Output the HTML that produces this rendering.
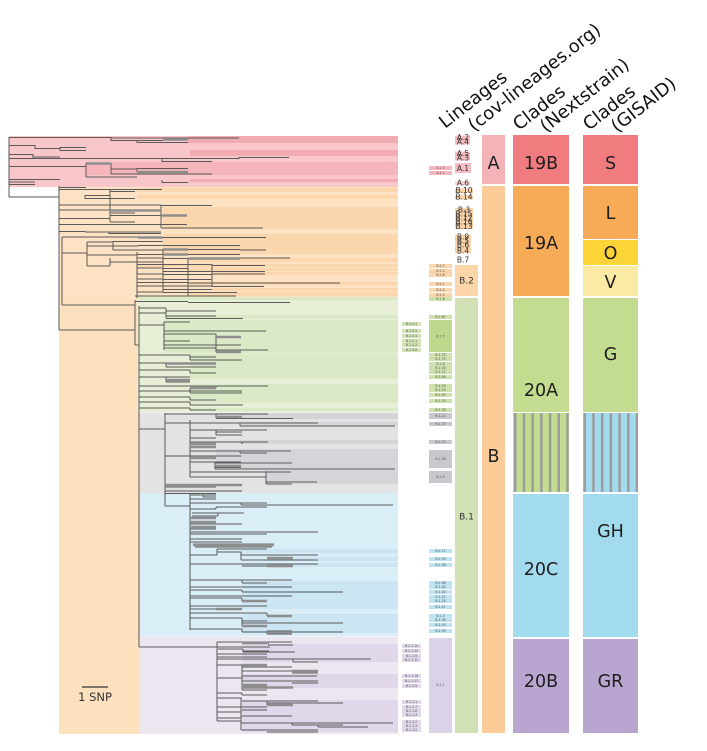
<!DOCTYPE html>
<html><head><meta charset="utf-8"><style>
html,body{margin:0;padding:0;background:#fff;}
svg{display:block;}
</style></head><body>
<svg width="707" height="751" viewBox="0 0 707 751" xmlns="http://www.w3.org/2000/svg" font-family="'DejaVu Sans','Liberation Sans',sans-serif">
<rect width="707" height="751" fill="#fff"/>

<!-- clade bands in tree -->
<rect x="9" y="136" width="389" height="51" fill="#f9c6ca"/>
<rect x="59" y="187" width="339" height="113" fill="#fde2c4"/>
<rect x="59" y="300" width="80" height="434" fill="#fde0bd"/>
<rect x="137" y="300" width="261" height="112" fill="#e7f0d6"/>
<rect x="139" y="412" width="259" height="81" fill="#e3e3e3"/>
<rect x="139" y="493" width="259" height="143" fill="#daeef7"/>
<rect x="139" y="636" width="259" height="98" fill="#ece6f1"/>
<rect x="139" y="412" width="259" height="0.8" fill="#f4f4f4"/>
<rect x="139" y="636" width="259" height="0.8" fill="#f4f4f8"/>

<!-- stripes -->
<g fill="#f3abb2">
<rect x="188" y="136" width="210" height="7"/><rect x="190" y="150" width="208" height="6"/>
<rect x="86" y="162" width="312" height="13" fill="#f5b5bb"/><rect x="190" y="179" width="208" height="3"/>
</g>
<g fill="#fcd6ac">
<rect x="137" y="188" width="261" height="4"/><rect x="137" y="195" width="261" height="4"/>
<rect x="163" y="207" width="235" height="22"/><rect x="163" y="234" width="235" height="20"/>
<rect x="190" y="258" width="208" height="4"/><rect x="137" y="264" width="261" height="3"/>
<rect x="188" y="268" width="210" height="3"/><rect x="212" y="272" width="186" height="3"/>
<rect x="188" y="282" width="210" height="3"/><rect x="212" y="288" width="186" height="3"/>
<rect x="188" y="292" width="210" height="4"/>
</g>
<rect x="137" y="297" width="261" height="3" fill="#dbe9c6"/>
<g fill="#dbe9c6">
<rect x="166" y="315" width="232" height="4"/><rect x="164" y="320" width="234" height="33"/>
<rect x="190" y="354" width="208" height="25"/><rect x="190" y="384" width="208" height="19"/>
<rect x="190" y="408" width="208" height="3"/>
</g>
<g fill="#d5d5d9">
<rect x="216" y="413" width="182" height="6"/><rect x="240" y="422" width="158" height="4"/>
<rect x="240" y="440" width="158" height="4"/><rect x="216" y="449" width="182" height="20"/>
<rect x="266" y="470" width="132" height="14"/>
</g>
<g fill="#cbe6f2">
<rect x="241" y="549" width="157" height="4"/><rect x="267" y="557" width="131" height="4"/>
<rect x="242" y="563" width="156" height="4"/><rect x="242" y="581" width="156" height="28"/>
<rect x="242" y="614" width="156" height="19"/>
</g>
<g fill="#e0d8ea">
<rect x="242" y="644" width="156" height="18"/><rect x="242" y="674" width="156" height="14"/>
<rect x="242" y="700" width="156" height="32"/>
</g>

<!-- tree -->
<path fill="none" stroke="#5a5a5a" stroke-width="1" d="
M9 137V197 M9 197H59
M9 137.5H111 M111 138H239 M111 140.5H163 M137 142.5H188
M9 145.5H35 M35 148.5H60 M60 147.5H86 M60 150.5H86
M9 154.5H33 M33 157H60 M9 158.5H162 M162 158.5H239 M239 157.5H289 M162 161.5H212
M86 163.5H111 M9 166.5H86 M111 169H137 M137 168.5H188 M137 172H188 M111 174H212 M86 177H137
M9 179.5H60 M9 182H35 M162 182.5H188 M9 184.5H35
M111 137V141 M137 140V143 M35 145V149 M60 147V151 M33 154V158 M162 158V162 M239 157V159 M86 163V177 M111 163V174 M137 168V172 M162 180V183
M59 186V330
M59 187.5H86 M59 189.5H162 M110 191.5H135 M85 195.5H110 M85 198.5H135
M59 205H161 M161 205.5H212 M59 210H110 M110 210.5H161 M110 213H135
M110 215.5H161 M161 215.5H187 M59 218.5H110 M110 222H135
M59 224.5H161 M161 224.5H187 M161 228H238 M238 228H263
M59 231.5H85 M85 232H161 M109 233.5H161 M62 237H138 M138 237.5H163 M163 237.5H266
M110 189V222 M85 195V199 M161 205V228 M85 231V232 M109 232V234
M87 242H113 M113 241.5H163 M87 246H138 M138 245.5H240
M113 250H163 M163 249.5H240 M240 250H266 M62 253H87
M87 255H137 M137 254.5H163 M163 254.5H240
M137 258H163 M163 258.5H188 M188 258H290 M110 262H137 M137 262H163 M87 266H110
M137 264.5H212 M212 265.5H265 M137 268H163 M163 268.5H188
M163 271.5H212 M212 271.5H265 M137 274H163 M163 274.5H212 M212 274H265
M137 279H163 M163 279.5H212 M137 282.5H188 M188 283H340
M137 286H212 M212 286.5H264 M163 289.5H212 M137 292H163 M163 292.5H237
M135 296H188 M188 296H236 M62 305H135
M62 237V305 M87 242V266 M113 241V250 M137 252V298 M110 258V266 M163 249V292 M212 264V287 M188 258V296
M59 330H135 M135 300V345 M135 345H139 M139 306V647 M139 647H217
M135 301.5H188 M188 302.5H290
M139 308H166 M166 311H216 M139 313H166 M166 316H216 M166 318.5H243
M164 322H190 M139 325H164 M164 331H266 M164 334H216 M216 337H241 M164 341H190 M164 345H241
M164 348H216 M216 350H268 M216 352H241
M139 355H190 M190 357H216 M190 360H242 M139 363H166 M166 363.5H216 M166 367H216
M139 370H190 M190 373H216 M139 377H190 M166 380H190 M166 382H190
M139 386H216 M216 386H268 M190 388H216 M139 391H242 M190 393H242 M139 397H190 M190 400H216
M139 402H190 M190 405H243 M139 408H190 M190 410H216
M166 308V318 M164 322V350 M216 334V352 M190 355V360 M166 363V367 M190 370V373 M166 377V382
M216 386V388 M190 388V393 M190 397V400 M190 402V405 M190 408V410
M165 413V492 M139 429H165
M165 414H216 M216 414H268 M216 417H242 M216 418.5H293 M216 414V418
M190 420V477 M165 423H190 M190 423H240 M240 423H318 M240 426H395 M190 430H267 M216 432H242 M216 435H242
M190 438H216 M190 442H242 M242 442H268 M190 444H216 M190 447H216 M190 451H240 M240 451H267 M267 451H291
M240 453H267 M165 456H190 M190 456H241 M190 458H216 M190 462H241 M215 463H292 M215 466H241
M215 467.5H241 M215 469H395 M190 472H291 M190 477H266 M266 482H317 M266 484H292
M165 485H242 M165 487H216 M165 491H242
M240 423V426 M216 430V435 M242 442V444 M240 451V453 M215 462V469 M266 471V484
M165 490V506 M165 506H190 M190 493V630
M165 493.5H216 M190 495H216 M203 495V497 M203 497H216 M190 499H216 M190 503H241 M241 503H267
M241 505H393 M241 503V505 M216 507H267 M190 509H216 M216 507V509
M192 513H218 M218 513V516 M218 513H244 M192 516H218 M190 518H216 M190 522H216 M190 524H242
M190 527H216 M190 529H216 M190 532H318 M190 534H267 M190 539H242 M190 542H242
M193 544H274 M195 547H272 M217 549H267 M217 552H241 M217 549V555 M190 555H217 M241 555H318
M241 552V560 M267 558H293 M241 560H318
M190 564H242 M242 564H318 M242 566H293
M190 580H242 M242 580H292 M242 583H267 M242 580V583 M190 587H267 M267 587H292 M190 590H242
M242 592H318 M318 592H343 M242 590V592 M190 596H267 M267 596H292 M190 598H242 M242 601H267 M242 598V601
M190 606H267 M190 609H216 M216 609H242 M190 613H267 M267 616H292 M267 613V616 M190 618H242
M242 621H267 M242 623H343 M242 626H267 M242 618V626 M190 629H242 M267 631H292 M242 632H343 M267 634H292
M242 629V632 M267 631V634
M217 642V721 M217 642H292 M242 643H269 M268 645H293 M217 647H270 M218 649H243 M243 651H269
M243 652H295 M243 649V652 M217 654H267 M217 657H267 M217 659H293 M293 659H371 M293 662H318 M293 659V662
M217 665H242 M242 665H267 M242 667H292 M242 665V690 M242 671H292 M292 671H318 M292 673H318
M242 676H317 M217 678H242 M242 681H292 M292 681H318 M292 683H318 M242 685H267 M242 687H293 M242 690H267
M217 693H242 M242 695H267 M242 693V695 M217 698H242 M242 701H269 M267 701H318 M267 703H343 M267 705H293
M217 707H267 M242 710H267 M217 712H241 M241 716H267 M267 716H292 M217 718H241 M217 721H241
M241 723H292 M292 723H343 M343 723H393 M292 725H343 M318 727H368 M241 730H318 M267 732H318
M241 698V730 M267 701V705 M292 723V725 M318 725V727
"/>
<!-- darker double segments -->
<path fill="none" stroke="#8e8e8e" stroke-width="2.6" d="
M163 139.5H188 M86 163.5H111 M137 172H188
M110 210.5H161 M161 215.5H187 M138 237.5H163 M163 249.5H188 M163 254.5H188 M188 258.5H240
M216 337H241 M216 352H241 M166 363.5H216 M166 380H190 M190 388H216
M216 417H242 M216 466H241 M190 444H216 M190 447H216 M190 458H216 M165 485H242
M190 518H216 M190 522H216 M190 527H216 M193 545H274 M267 558H293 M267 566H293 M242 601H267
M216 609H242 M267 616H292 M242 626H267 M267 632.5H292
M242 643H269 M242 665H267 M292 671H318 M242 685H267 M242 687.5H293 M267 705H293
"/>

<!-- scale bar -->
<line x1="82" y1="687" x2="108" y2="687" stroke="#333" stroke-width="1.3"/>
<text x="95" y="701" font-size="11.5" text-anchor="middle" fill="#333">1 SNP</text>

<!-- left tiny label column (402-421) -->
<g font-size="3.2" fill="#555" text-anchor="middle">
<g fill="#d2e4b5">
<rect x="402" y="322" width="19" height="4"/><rect x="402" y="329" width="19" height="4"/>
<rect x="402" y="334" width="19" height="4"/><rect x="402" y="339" width="19" height="4"/>
<rect x="402" y="343" width="19" height="4"/><rect x="402" y="348" width="19" height="4"/>
</g>
<text x="411.5" y="325.2">B.1.5.3</text><text x="411.5" y="332.2">B.1.5.5</text><text x="411.5" y="337.2">B.1.5.4</text>
<text x="411.5" y="342.2">B.1.5.1</text><text x="411.5" y="346.2">B.1.5.2</text><text x="411.5" y="351.2">B.1.5.6</text>
<g fill="#e0d8ea">
<rect x="402" y="644" width="19" height="4"/><rect x="402" y="649" width="19" height="4"/><rect x="402" y="654" width="19" height="4"/><rect x="402" y="658" width="19" height="4"/>
<rect x="402" y="674" width="19" height="4"/><rect x="402" y="679" width="19" height="4"/><rect x="402" y="684" width="19" height="4"/>
<rect x="402" y="700" width="19" height="4"/><rect x="402" y="705" width="19" height="4"/><rect x="402" y="709" width="19" height="4"/><rect x="402" y="713" width="19" height="4"/>
<rect x="402" y="720" width="19" height="4"/><rect x="402" y="724" width="19" height="4"/><rect x="402" y="728" width="19" height="4"/>
</g>
<text x="411.5" y="647.2">B.1.1.10</text><text x="411.5" y="652.2">B.1.1.14</text><text x="411.5" y="657.2">B.1.1.8</text><text x="411.5" y="661.2">B.1.1.12</text>
<text x="411.5" y="677.2">B.1.1.18</text><text x="411.5" y="682.2">B.1.1.17</text><text x="411.5" y="687.2">B.1.1.9</text>
<text x="411.5" y="703.2">B.1.1.1</text><text x="411.5" y="708.2">B.1.1.7</text><text x="411.5" y="712.2">B.1.1.6</text><text x="411.5" y="716.2">B.1.1.4</text>
<text x="411.5" y="723.2">B.1.1.2</text><text x="411.5" y="727.2">B.1.1.3</text><text x="411.5" y="731.2">B.1.1.5</text>
</g>

<!-- tiny label column (428-452) -->
<g font-size="3.2" fill="#555" text-anchor="middle">
<rect x="429" y="166" width="23" height="4" fill="#f4b9be"/><rect x="429" y="171" width="23" height="4" fill="#f4b9be"/>
<text x="440.5" y="169.2">A.1.3</text><text x="440.5" y="174.2">A.1.1</text>
<g fill="#fbd6ad">
<rect x="429" y="264" width="23" height="4"/><rect x="429" y="269" width="23" height="4"/><rect x="429" y="273" width="23" height="4"/>
<rect x="429" y="282" width="23" height="4"/><rect x="429" y="288" width="23" height="4"/><rect x="429" y="293" width="23" height="4"/>
</g>
<text x="440.5" y="267.2">B.2.7</text><text x="440.5" y="272.2">B.2.2</text><text x="440.5" y="276.2">B.2.6</text>
<text x="440.5" y="285.2">B.2.1</text><text x="440.5" y="291.2">B.2.4</text><text x="440.5" y="296.2">B.2.5</text>
<g fill="#cfe2ae">
<rect x="429" y="297" width="23" height="4"/><rect x="429" y="315" width="23" height="4"/>
<rect x="429" y="353" width="23" height="4"/><rect x="429" y="357" width="23" height="4"/><rect x="429" y="362" width="23" height="4"/>
<rect x="429" y="366" width="23" height="4"/><rect x="429" y="370" width="23" height="4"/><rect x="429" y="375" width="23" height="4"/>
<rect x="429" y="384" width="23" height="4"/><rect x="429" y="388" width="23" height="4"/><rect x="429" y="393" width="23" height="4"/>
<rect x="429" y="399" width="23" height="4"/><rect x="429" y="408" width="23" height="4"/>
</g>
<rect x="429" y="320" width="23" height="32" fill="#bcd98e"/>
<text x="440.5" y="300.2">B.1.6</text><text x="440.5" y="318.2">B.1.67</text><text x="440.5" y="337.5">B.1.5</text>
<text x="440.5" y="356.2">B.1.72</text><text x="440.5" y="360.2">B.1.70</text><text x="440.5" y="365.2">B.1.8</text>
<text x="440.5" y="369.2">B.1.34</text><text x="440.5" y="373.2">B.1.71</text><text x="440.5" y="378.2">B.1.69</text>
<text x="440.5" y="387.2">B.1.29</text><text x="440.5" y="391.2">B.1.23</text><text x="440.5" y="396.2">B.1.32</text>
<text x="440.5" y="402.2">B.1.33</text><text x="440.5" y="411.2">B.1.35</text>
<g fill="#c8c8cf">
<rect x="429" y="413" width="23" height="6"/><rect x="429" y="422" width="23" height="4"/><rect x="429" y="440" width="23" height="4"/>
<rect x="429" y="450" width="23" height="18"/><rect x="429" y="471" width="23" height="12"/>
</g>
<text x="440.5" y="417.2">B.1.22</text><text x="440.5" y="425.2">B.1.37</text><text x="440.5" y="443.2">B.1.13</text>
<text x="440.5" y="460.2">B.1.36</text><text x="440.5" y="478.2">B.1.9</text>
<g fill="#bfe3f1">
<rect x="429" y="549" width="23" height="4"/><rect x="429" y="557" width="23" height="4"/><rect x="429" y="563" width="23" height="4"/>
<rect x="429" y="581" width="23" height="4"/><rect x="429" y="585" width="23" height="4"/><rect x="429" y="590" width="23" height="4"/>
<rect x="429" y="595" width="23" height="4"/><rect x="429" y="599" width="23" height="4"/><rect x="429" y="605" width="23" height="4"/>
<rect x="429" y="614" width="23" height="4"/><rect x="429" y="618" width="23" height="4"/><rect x="429" y="623" width="23" height="4"/>
<rect x="429" y="629" width="23" height="4"/>
</g>
<text x="440.5" y="552.2">B.1.12</text><text x="440.5" y="560.2">B.1.30</text><text x="440.5" y="566.2">B.1.38</text>
<text x="440.5" y="584.2">B.1.66</text><text x="440.5" y="588.2">B.1.44</text><text x="440.5" y="593.2">B.1.40</text>
<text x="440.5" y="598.2">B.1.31</text><text x="440.5" y="602.2">B.1.29</text><text x="440.5" y="608.2">B.1.41</text>
<text x="440.5" y="617.2">B.1.3</text><text x="440.5" y="621.2">B.1.26</text><text x="440.5" y="626.2">B.1.43</text>
<text x="440.5" y="632.2">B.1.39</text>
<rect x="429" y="638" width="23" height="95" fill="#dcd2e8"/>
<text x="440.5" y="686.2">B.1.1</text>
</g>

<!-- lineage column -->
<rect x="482" y="135" width="23" height="49" fill="#f4b3b7"/>
<rect x="482" y="186" width="23" height="547" fill="#fccc98"/>
<rect x="455" y="298" width="23" height="435" fill="#d1e1b3"/>
<rect x="455" y="265" width="23" height="31" fill="#fcd5a8"/>
<g fill="#f5bcc1">
<rect x="455" y="135.5" width="15" height="4.5"/><rect x="455" y="140" width="15" height="4.5"/>
<rect x="455" y="151.5" width="15" height="4.5"/><rect x="455" y="156" width="15" height="4.5"/>
<rect x="455" y="163" width="16" height="10"/><rect x="455" y="181" width="15" height="4" fill="#f8d3d5"/>
</g>
<g fill="#fbd3a9">
<rect x="455" y="188.5" width="18" height="4.5"/><rect x="455" y="195" width="18" height="4.5"/>
<rect x="455" y="208" width="18" height="21"/><rect x="455" y="235" width="16" height="18"/>
</g>
<g font-size="7.5" fill="#333" text-anchor="middle">
<text x="463" y="140.2">A.2</text><text x="463" y="144.7">A.4</text>
<text x="463" y="156.2">A.5</text><text x="463" y="160.7">A.3</text>
<text x="463" y="171">A.1</text><text x="463" y="185.7">A.6</text>
<text x="464" y="193.2">B.10</text><text x="464" y="199.7">B.14</text>
<text x="464" y="212.7">B.3</text><text x="464" y="216.7">B.15</text><text x="464" y="220.7">B.12</text>
<text x="464" y="224.7">B.16</text><text x="464" y="229.2">B.13</text>
<text x="463" y="239.7">B.9</text><text x="463" y="243.7">B.5</text><text x="463" y="247.7">B.6</text>
<text x="463" y="253.7">B.4</text><text x="463" y="262.7">B.7</text>
</g>
<g font-size="9" fill="#333" text-anchor="middle">
<text x="466.5" y="283.5">B.2</text>
<text x="466.5" y="519.5">B.1</text>
</g>

<!-- Nextstrain clades -->
<rect x="513" y="135" width="56" height="49" fill="#f07c80"/>
<rect x="513" y="186" width="56" height="110" fill="#f8ab57"/>
<rect x="513" y="298" width="56" height="114" fill="#c4dc8f"/>
<rect x="513" y="413" width="56" height="79" fill="#c4dc8f"/>
<g fill="#9d9d9d">
<rect x="514" y="413" width="2.5" height="79"/><rect x="522.7" y="413" width="2.5" height="79"/>
<rect x="531.4" y="413" width="2.5" height="79"/><rect x="540.1" y="413" width="2.5" height="79"/>
<rect x="548.8" y="413" width="2.5" height="79"/><rect x="557.5" y="413" width="2.5" height="79"/>
<rect x="566.2" y="413" width="2.5" height="79"/>
</g>
<rect x="513" y="494" width="56" height="143" fill="#a2dbee"/>
<rect x="513" y="639" width="56" height="94" fill="#b9a6d0"/>

<!-- GISAID clades -->
<rect x="583" y="135" width="55" height="49" fill="#f07c80"/>
<rect x="583" y="186" width="55" height="53" fill="#f8ab57"/>
<rect x="583" y="240" width="55" height="25" fill="#fcd438"/>
<rect x="583" y="266" width="55" height="30" fill="#faeaa6"/>
<rect x="583" y="298" width="55" height="114" fill="#c4dc8f"/>
<rect x="583" y="413" width="55" height="79" fill="#a2dbee"/>
<g fill="#9d9d9d">
<rect x="583.5" y="413" width="2.5" height="79"/><rect x="592.2" y="413" width="2.5" height="79"/>
<rect x="600.9" y="413" width="2.5" height="79"/><rect x="609.6" y="413" width="2.5" height="79"/>
<rect x="618.3" y="413" width="2.5" height="79"/><rect x="627" y="413" width="2.5" height="79"/>
<rect x="635.7" y="413" width="2.3" height="79"/>
</g>
<rect x="583" y="494" width="55" height="143" fill="#a2dbee"/>
<rect x="583" y="639" width="55" height="94" fill="#b9a6d0"/>

<!-- big labels -->
<g font-size="17.5" fill="#1e1e1e" text-anchor="middle">
<text x="493.5" y="169">A</text>
<text x="493.5" y="462">B</text>
<text x="541" y="169">19B</text>
<text x="541" y="249">19A</text>
<text x="541" y="396">20A</text>
<text x="541" y="575">20C</text>
<text x="541" y="687">20B</text>
<text x="610.5" y="169">S</text>
<text x="610.5" y="219">L</text>
<text x="610.5" y="259">O</text>
<text x="610.5" y="288">V</text>
<text x="610.5" y="360">G</text>
<text x="610.5" y="537">GH</text>
<text x="610.5" y="687">GR</text>
</g>

<!-- header -->
<g font-size="18" fill="#111">
<text x="445" y="129" transform="rotate(-38 445 129)">Lineages</text>
<text x="474" y="132" transform="rotate(-38 474 132)">(cov-lineages.org)</text>
<text x="519" y="131" transform="rotate(-38 519 131)">Clades</text>
<text x="546" y="133" transform="rotate(-38 546 133)">(Nextstrain)</text>
<text x="589" y="131" transform="rotate(-38 589 131)">Clades</text>
<text x="617" y="133" transform="rotate(-38 617 133)">(GISAID)</text>
</g>
</svg>
</body></html>
